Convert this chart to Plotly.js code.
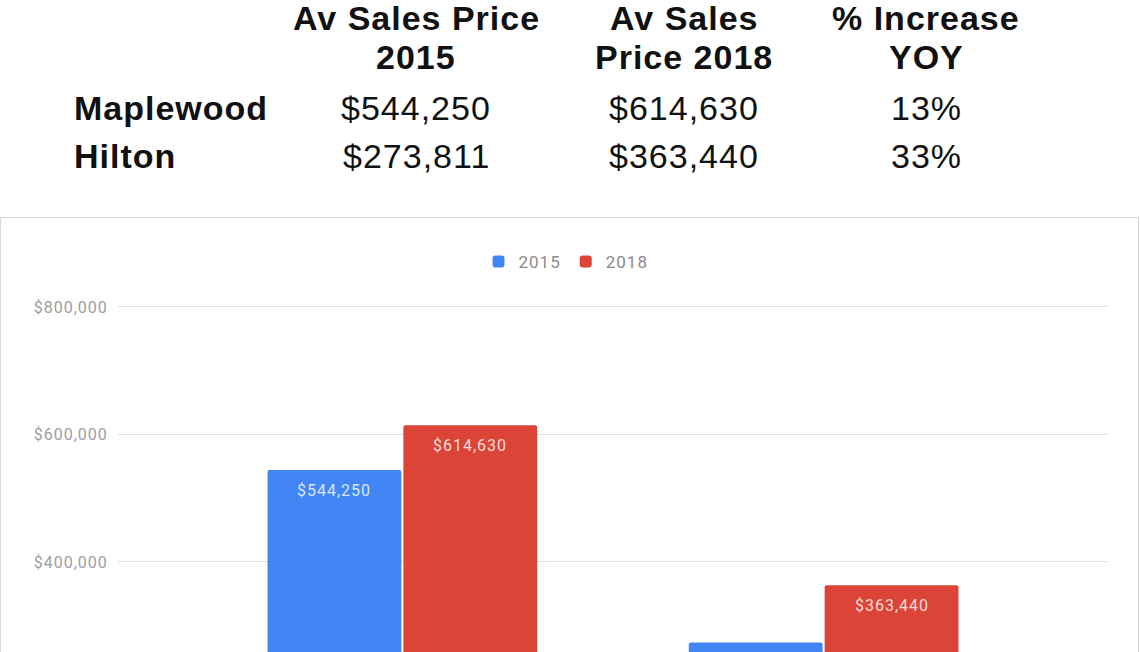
<!DOCTYPE html>
<html>
<head>
<meta charset="utf-8">
<script src="https://cdn.plot.ly/plotly-3.0.1.min.js"></script>
<style>
  html, body { margin: 0; padding: 0; overflow: hidden; background: #fff; }
  #chart { width: 1140px; height: 900px; }
  .annotation-text { letter-spacing: 1px; }
  .ytick text { letter-spacing: 1px; }
  .legendtext { letter-spacing: 1px; }
</style>
</head>
<body>
<div id="chart"></div>
<script>
// ---- data ----
const categories = ['Maplewood', 'Hilton'];
const seriesNames = ['2015', '2018'];
const price2015 = [544250, 273811];
const price2018 = [614630, 363440];
const pctIncrease = [13, 33];
const headerLines = [['Av Sales Price', '2015'], ['Av Sales', 'Price 2018'], ['% Increase', 'YOY']];
const yTickVals = [0, 200000, 400000, 600000, 800000];

// ---- layout helpers (pixel -> paper) ----
const W = 1140, H = 900;
const M = { l: 118, r: 32, t: 299, b: 83 };
const PW = W - M.l - M.r, PH = H - M.t - M.b;
const xp = px => (px - M.l) / PW;
const yp = py => (H - M.b - py) / PH;
const money = v => '$' + v.toLocaleString('en-US');

const colors = ['#4285F4', '#DB4437'];
const series = [price2015, price2018];
const bargap = 0.355;

const traces = series.map((vals, j) => ({
  type: 'bar',
  name: seriesNames[j],
  x: categories,
  y: vals,
  marker: { color: colors[j], cornerradius: 2 },
  hoverinfo: 'none'
}));

const annotations = [];
const tableFont = { family: 'Liberation Sans, Arial, sans-serif', size: 34, color: '#111' };
const colX = [416, 684, 926];
const headerY = [18, 57];
const rowY = [108, 156];

// header
headerLines.forEach((lines, c) => {
  lines.forEach((t, k) => {
    annotations.push({
      xref: 'paper', yref: 'paper', x: xp(colX[c]), y: yp(headerY[k]),
      xanchor: 'center', yanchor: 'middle', showarrow: false,
      text: '<b>' + t + '</b>', font: tableFont
    });
  });
});
// rows
categories.forEach((cat, i) => {
  annotations.push({
    xref: 'paper', yref: 'paper', x: xp(72), y: yp(rowY[i]),
    xanchor: 'left', yanchor: 'middle', showarrow: false,
    text: '<b>' + cat + '</b>', font: tableFont
  });
  const cells = [money(price2015[i]), money(price2018[i]), pctIncrease[i] + '%'];
  cells.forEach((t, c) => {
    annotations.push({
      xref: 'paper', yref: 'paper', x: xp(colX[c]), y: yp(rowY[i]),
      xanchor: 'center', yanchor: 'middle', showarrow: false,
      text: t, font: tableFont
    });
  });
});
// bar value labels
series.forEach((vals, j) => {
  vals.forEach((v, i) => {
    annotations.push({
      xref: 'x', yref: 'y', x: i + (j - 0.5) * (1 - bargap) / 2, y: v,
      xanchor: 'center', yanchor: 'middle', yshift: -20, showarrow: false,
      text: money(v),
      font: { family: 'Roboto, Arial, sans-serif', size: 16, color: 'rgba(255,255,255,0.82)' }
    });
  });
});

const layout = {
  width: W, height: H,
  margin: M,
  paper_bgcolor: '#fff', plot_bgcolor: '#fff',
  showlegend: true,
  legend: {
    orientation: 'h', x: xp(566), xanchor: 'center', y: yp(262), yanchor: 'middle',
    font: { family: 'Roboto, Arial, sans-serif', size: 17, color: '#8a8a8a' },
    bgcolor: 'rgba(0,0,0,0)'
  },
  bargap: bargap, bargroupgap: 0.015, barmode: 'group',
  xaxis: {
    type: 'category', range: [-0.675, 1.675], showgrid: false, zeroline: false,
    showline: false, showticklabels: false, fixedrange: true
  },
  yaxis: {
    range: [0, 812500], tickvals: yTickVals, ticktext: yTickVals.map(money),
    showgrid: true, gridcolor: '#e0e0e0', gridwidth: 1, zeroline: false, showline: false,
    ticks: 'outside', ticklen: 6, tickcolor: 'rgba(0,0,0,0)',
    tickfont: { family: 'Roboto, Arial, sans-serif', size: 16, color: '#9e9e9e' }, fixedrange: true
  },
  shapes: [{
    type: 'rect', xref: 'paper', yref: 'paper', layer: 'below',
    x0: xp(0.5), x1: xp(1138.5), y0: yp(899), y1: yp(217.5),
    line: { color: '#d6d6d6', width: 1 }, fillcolor: 'rgba(0,0,0,0)'
  }],
  annotations: annotations
};

Plotly.newPlot('chart', traces, layout, { displayModeBar: false, staticPlot: true });
</script>
</body>
</html>
